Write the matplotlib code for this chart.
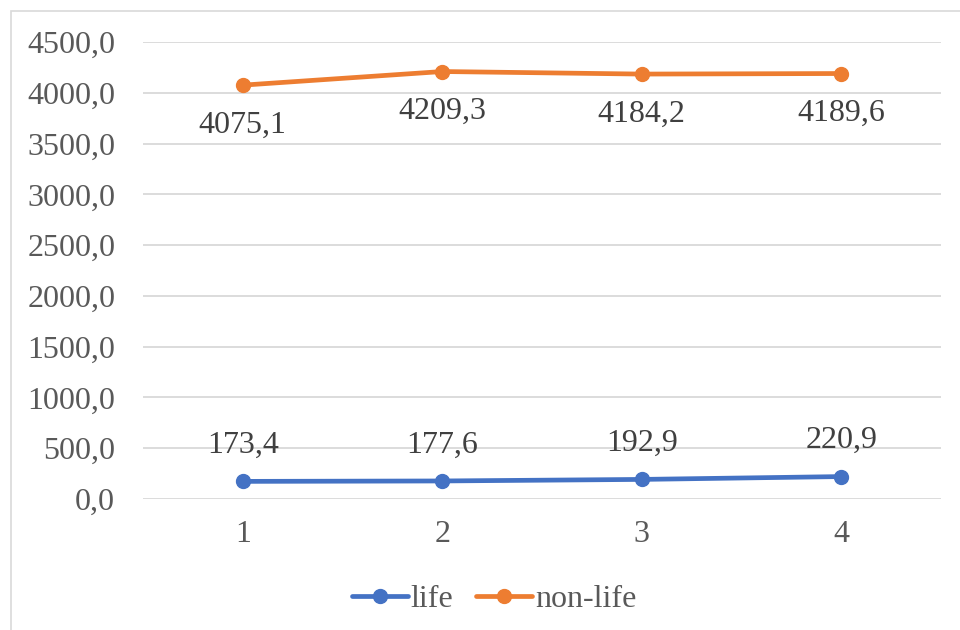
import matplotlib
matplotlib.use("Agg")
import matplotlib.pyplot as plt
from matplotlib.patches import Rectangle

periods = [1, 2, 3, 4]
life = [173.4, 177.6, 192.9, 220.9]
non_life = [4075.1, 4209.3, 4184.2, 4189.6]
y_ticks = [0, 500, 1000, 1500, 2000, 2500, 3000, 3500, 4000, 4500]

plt.rcParams['font.family'] = ['Liberation Serif', 'DejaVu Serif']

fig = plt.figure(figsize=(9.6, 6.3), dpi=100)
fig.patches.append(Rectangle((11 / 960, -0.05), 1.0, 1 - 11 / 630 + 0.05,
                             transform=fig.transFigure, fill=False,
                             edgecolor='#d9d9d9', linewidth=1.2))
ax = fig.add_axes([143 / 960, 1 - 499 / 630, 798 / 960, 457 / 630])

blue = '#4472C4'
orange = '#ED7D31'
ax.plot(periods, life, color=blue, lw=3.4, marker='o', ms=10, label='life',
        solid_capstyle='round', zorder=3)
ax.plot(periods, non_life, color=orange, lw=3.4, marker='o', ms=10, label='non-life',
        solid_capstyle='round', zorder=3)

def fmt(v):
    return f"{v:.1f}".replace('.', ',')

FS = 23
for x, v in zip(periods, life):
    ax.annotate(fmt(v), (x, v), xytext=(0, 26), textcoords='offset points',
                ha='center', va='center', fontsize=FS, color='#404040')
for x, v in zip(periods, non_life):
    ax.annotate(fmt(v), (x, v), xytext=(0, -29), textcoords='offset points',
                ha='center', va='center', fontsize=FS, color='#404040')

ax.set_xlim(0.5, 4.5)
ax.set_ylim(0, 4500)
ax.set_yticks(y_ticks)
ax.set_yticklabels([fmt(t) for t in y_ticks])
ax.set_xticks(periods)
ax.set_xticklabels([str(p) for p in periods])
ax.grid(axis='y', color='#d9d9d9', lw=1.3)
ax.set_axisbelow(True)
for s in ax.spines.values():
    s.set_visible(False)
ax.tick_params(length=0, labelsize=FS, labelcolor='#595959')
ax.tick_params(axis='y', pad=20)
ax.tick_params(axis='x', pad=15)

ax.legend(loc='center', bbox_to_anchor=(494 / 960, 1 - 599 / 630),
          bbox_transform=fig.transFigure, ncol=2, frameon=False,
          fontsize=FS, labelcolor='#595959', handlelength=1.75,
          handletextpad=0.1, columnspacing=0.7)

fig.savefig('out.png', dpi=100, facecolor='white')
